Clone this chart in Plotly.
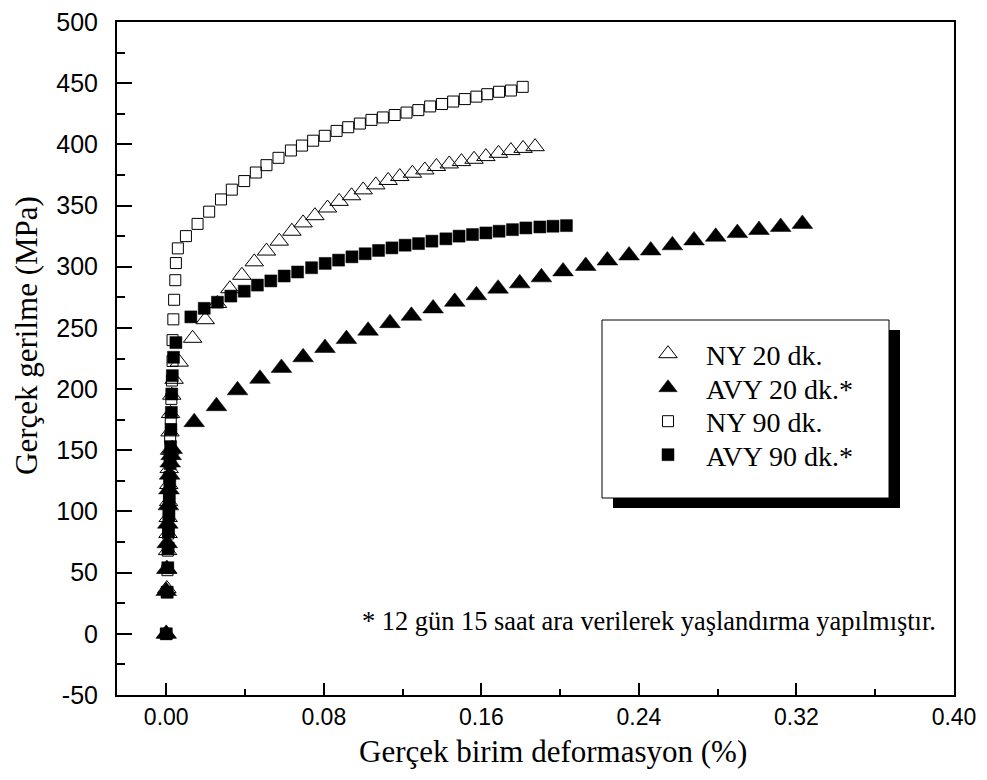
import plotly.graph_objects as go

# ---- data ----
ny20_x = [0, 0.0003, 0.0005, 0.0007, 0.0009, 0.0010, 0.0012, 0.0013, 0.0015, 0.0017, 0.0019, 0.0022, 0.0028,
          0.0040, 0.0066, 0.0134, 0.0198, 0.0260, 0.0323, 0.0384, 0.0447, 0.0509, 0.0574, 0.0638, 0.0695,
          0.0755, 0.0819, 0.0878, 0.0941, 0.1000, 0.1064, 0.1127, 0.1186, 0.1250, 0.1313, 0.1372, 0.1437,
          0.1499, 0.1563, 0.1623, 0.1687, 0.1750, 0.1812, 0.1873]
ny20_y = [0, 37, 53, 68, 82, 95, 108, 122, 135, 150, 165, 180, 195,
          208, 222, 241.5, 256.7, 270, 282, 293, 304, 312.8, 320.9, 329, 335.8,
          341.7, 348, 353.4, 358, 362.8, 366.9, 370.5, 373.7, 376.4, 379.1, 381.9, 384,
          385.9, 387.8, 390, 392.7, 394.9, 396.7, 398.1]

avy20_x = [0, 0.0000, 0.0003, 0.0005, 0.0008, 0.0011, 0.0014, 0.0017, 0.0020, 0.0025, 0.0030, 0.0142,
           0.0255, 0.0362, 0.0476, 0.0585, 0.0695, 0.0806, 0.0915, 0.1025, 0.1136, 0.1245, 0.1355,
           0.1465, 0.1575, 0.1685, 0.1795, 0.1905, 0.2015, 0.2130, 0.2240, 0.2350, 0.2460, 0.2570,
           0.2680, 0.2790, 0.2900, 0.3010, 0.3120, 0.3230]
avy20_y = [0, 35, 53, 74, 90, 105, 118, 130, 140, 146, 151, 173,
           186, 199, 208.4, 217.3, 226, 233.6, 240.9, 247.7, 253.9, 259.9, 265.9,
           271.3, 276.7, 282.1, 286.4, 291.3, 296.2, 300.6, 305.1, 309.2, 313.3, 317.5,
           321.5, 324.5, 327.5, 330, 332.5, 335]

ny90_x = [0, 0.0003, 0.0006, 0.0008, 0.0010, 0.0012, 0.0014, 0.0016, 0.0018, 0.0020, 0.0023, 0.0026,
          0.0029, 0.0032, 0.0032, 0.0036, 0.0040, 0.0046, 0.0049, 0.0059, 0.0100, 0.0159, 0.0218,
          0.0278, 0.0333, 0.0396, 0.0455, 0.0509, 0.0570, 0.0633, 0.0689, 0.0746, 0.0805, 0.0865,
          0.0924, 0.0983, 0.1042, 0.1100, 0.1160, 0.1220, 0.1280, 0.1340, 0.1400, 0.1457, 0.1516,
          0.1575, 0.1630, 0.1690, 0.1750, 0.1810]
ny90_y = [0, 34, 52, 68, 82, 97, 112, 128, 145, 160, 176, 192,
          207, 223, 240, 257, 273, 289, 303, 315, 325, 335, 345,
          355, 363, 370, 377, 383, 389, 395, 399, 403, 407, 411,
          414, 417, 420, 422, 424, 426, 428, 431, 433, 435, 437,
          439, 441, 443, 444, 447]

avy90_x = [0, 0.0005, 0.0008, 0.0010, 0.0012, 0.0014, 0.0016, 0.0018, 0.0020, 0.0022, 0.0024, 0.0026,
           0.0028, 0.0031, 0.0037, 0.0049, 0.0125, 0.0193, 0.0260, 0.0328, 0.0396, 0.0463, 0.0531,
           0.0599, 0.0667, 0.0738, 0.0807, 0.0875, 0.0943, 0.1010, 0.1078, 0.1146, 0.1213, 0.1281,
           0.1349, 0.1420, 0.1487, 0.1555, 0.1623, 0.1690, 0.1758, 0.1826, 0.1897, 0.1964, 0.2032]
avy90_y = [0, 34, 54, 70, 84, 97, 110, 124, 139, 153, 167, 181,
           196, 211, 226, 238, 259, 266, 271, 276, 280, 285, 288.4,
           292.4, 295.7, 299.2, 302.7, 305.4, 308.1, 310.6, 313.3, 315.4, 317.6, 318.9,
           320.9, 322.8, 325, 326.3, 327.6, 329, 330.3, 331.7, 332.5, 333.1, 333.6]

series_names = ["NY 20 dk.", "AVY 20 dk.*", "NY 90 dk.", "AVY 90 dk.*"]
x_tick_vals = [0.00, 0.08, 0.16, 0.24, 0.32, 0.40]
x_tick_text = ["0.00", "0.08", "0.16", "0.24", "0.32", "0.40"]
y_tick_vals = [-50, 0, 50, 100, 150, 200, 250, 300, 350, 400, 450, 500]
y_tick_text = ["-50", "0", "50", "100", "150", "200", "250", "300", "350", "400", "450", "500"]
note_text = "* 12 gün 15 saat ara verilerek yaşlandırma yapılmıştır."
x_title = "Gerçek birim deformasyon (%)"
y_title = "Gerçek gerilme (MPa)"

SERIF = "Liberation Serif, Times New Roman, serif"
SANS = "Liberation Sans, Arial, sans-serif"

legend_ids = ["legend", "legend2", "legend3", "legend4"]
styles = [
    dict(symbol="triangle-up-open", size=16, color="black", line=dict(width=1, color="black")),
    dict(symbol="triangle-up", size=18, color="black", line=dict(width=0.5, color="black")),
    dict(symbol="square-open", size=11, color="black", line=dict(width=1, color="black")),
    dict(symbol="square", size=12, color="black", line=dict(width=0.5, color="black")),
]
xs = [ny20_x, avy20_x, ny90_x, avy90_x]
ys = [ny20_y, avy20_y, ny90_y, avy90_y]

fig = go.Figure()
for i in range(4):
    fig.add_trace(go.Scatter(x=xs[i], y=ys[i], mode="markers", name=series_names[i],
                             marker=styles[i], legend=legend_ids[i]))

# page pixel geometry of the plot area (the page body adds an 8 px margin around the figure)
OFF = 8
L, R, T, B = 117, 954, 22, 695
W, H = 987 - 2 * OFF, 780 - 2 * OFF
pw, ph = R - L, B - T


def px(xp):
    return (xp - L) / pw


def py(yp):
    return (B - yp) / ph


# legend shadow + box
fig.add_shape(type="rect", xref="paper", yref="paper", x0=px(613), x1=px(900), y0=py(508), y1=py(330),
              fillcolor="black", line=dict(width=0), layer="above")
fig.add_shape(type="rect", xref="paper", yref="paper", x0=px(602), x1=px(889), y0=py(498), y1=py(320),
              fillcolor="white", line=dict(width=1, color="black"), layer="above")

fig.add_annotation(text=note_text, xref="paper", yref="paper", x=px(938), y=py(621),
                   xanchor="right", yanchor="middle", showarrow=False,
                   font=dict(family=SERIF, size=26.4, color="black"))

# axis titles
fig.add_annotation(text=x_title, xref="paper", yref="paper", x=px(553), y=py(751),
                   xanchor="center", yanchor="middle", showarrow=False,
                   font=dict(family=SERIF, size=31, color="black"))
fig.add_annotation(text=y_title, xref="paper", yref="paper", x=px(26), y=py(336), textangle=-90,
                   xanchor="center", yanchor="middle", showarrow=False,
                   font=dict(family=SERIF, size=31, color="black"))

entry_y = [354, 388, 421.5, 455]
legend_common = dict(x=px(630), xanchor="left", yanchor="middle",
                     bgcolor="rgba(0,0,0,0)", borderwidth=0, itemwidth=66, itemsizing="trace",
                     font=dict(family=SERIF, size=28, color="black"))

fig.update_layout(
    template="none",
    width=W, height=H,
    margin=dict(l=L - OFF, r=(W + OFF) - R, t=T - OFF, b=(H + OFF) - B, pad=0, autoexpand=False),
    plot_bgcolor="white", paper_bgcolor="white",
    showlegend=True,
    legend=dict(y=py(entry_y[0]), **legend_common),
    legend2=dict(y=py(entry_y[1]), **legend_common),
    legend3=dict(y=py(entry_y[2]), **legend_common),
    legend4=dict(y=py(entry_y[3]), **legend_common),
    xaxis=dict(range=[-0.025, 0.40], tickvals=x_tick_vals, ticktext=x_tick_text, automargin=False,
               ticks="inside", ticklen=12, tickwidth=2, tickcolor="black",
               minor=dict(dtick=0.04, tick0=0, ticks="inside", ticklen=6, tickwidth=2, tickcolor="black"),
               showline=True, linewidth=2, linecolor="black", mirror=True,
               showgrid=False, zeroline=False, ticklabelstandoff=0, ticklabeloverflow="allow",
               tickfont=dict(family=SANS, size=23, color="black")),
    yaxis=dict(range=[-50, 500], tickvals=y_tick_vals, ticktext=y_tick_text, automargin=False,
               ticks="inside", ticklen=15, tickwidth=2, tickcolor="black",
               minor=dict(dtick=25, tick0=0, ticks="inside", ticklen=8, tickwidth=2, tickcolor="black"),
               showline=True, linewidth=2, linecolor="black", mirror=True,
               showgrid=False, zeroline=False, ticklabelstandoff=12, ticklabeloverflow="allow",
               tickfont=dict(family=SANS, size=25, color="black")),
)

fig.write_html("out.html")
